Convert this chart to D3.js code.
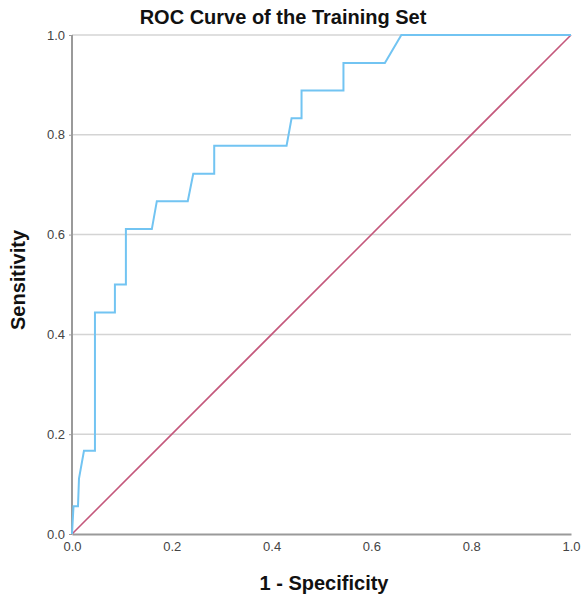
<!DOCTYPE html>
<html>
<head>
<meta charset="utf-8">
<script src="https://cdn.jsdelivr.net/npm/d3@7"></script>
<style>
  body { margin: 0; background: #fff; }
  #chart { width: 583px; height: 596px; }
  text { font-family: "Liberation Sans", Arial, sans-serif; }
</style>
</head>
<body>
<div id="chart"></div>
<script>
// ROC points (1 - specificity, sensitivity)
var fpr = [0, 0.003, 0.012, 0.014, 0.024, 0.046, 0.046, 0.086, 0.086, 0.108, 0.108, 0.160, 0.170, 0.232, 0.243, 0.285, 0.285, 0.430, 0.440, 0.460, 0.460, 0.544, 0.544, 0.627, 0.660, 1.0];
var tpr = [0, 0.0556, 0.0556, 0.111, 0.1667, 0.1667, 0.444, 0.444, 0.5, 0.5, 0.611, 0.611, 0.667, 0.667, 0.722, 0.722, 0.778, 0.778, 0.833, 0.833, 0.889, 0.889, 0.944, 0.944, 1.0, 1.0];
var refLine = [0, 1];
var ticks = [0, 0.2, 0.4, 0.6, 0.8, 1.0];

var margin = {top: 35, right: 12, bottom: 62, left: 72};
var W = 583, H = 596;
var w = W - margin.left - margin.right;
var h = H - margin.top - margin.bottom;

var xscale = d3.scaleLinear().domain([0, 1]).range([0, w]);
var yscale = d3.scaleLinear().domain([0, 1]).range([h, 0]);

var svg = d3.select("#chart").append("svg")
  .attr("width", W)
  .attr("height", H);

var g = svg.append("g")
  .attr("transform", "translate(" + margin.left + "," + margin.top + ")");

// gridlines
g.selectAll(".grid").data(ticks.slice(1)).enter()
  .append("line")
  .attr("x1", 0).attr("x2", w)
  .attr("y1", function(d){ return yscale(d); })
  .attr("y2", function(d){ return yscale(d); })
  .attr("stroke", "#d4d4d4")
  .attr("stroke-width", 1.5);

// axes
var xaxis = g.append("g")
  .attr("transform", "translate(0," + h + ")")
  .call(d3.axisBottom(xscale).tickValues(ticks).tickFormat(d3.format(".1f")).tickSize(0).tickPadding(8));
var yaxis = g.append("g")
  .call(d3.axisLeft(yscale).tickValues(ticks).tickFormat(d3.format(".1f")).tickSize(3).tickPadding(4));

[xaxis, yaxis].forEach(function(a){
  a.select(".domain").attr("stroke", "#9a9a9a").attr("stroke-width", 2);
  a.selectAll(".tick line").attr("stroke", "#9a9a9a");
  a.selectAll(".tick text")
    .attr("fill", "#444")
    .style("font-size", "13px")
    .style("font-family", "'Liberation Sans', Arial, sans-serif");
});
yaxis.select(".domain").attr("d", "M0," + h + "V0");

// reference diagonal
var line = d3.line()
  .x(function(d){ return xscale(d[0]); })
  .y(function(d){ return yscale(d[1]); });

g.append("path")
  .datum(refLine.map(function(v){ return [v, v]; }))
  .attr("fill", "none")
  .attr("stroke", "#c4587c")
  .attr("stroke-width", 1.6)
  .attr("d", line);

// ROC curve
g.append("path")
  .datum(fpr.map(function(v, i){ return [v, tpr[i]]; }))
  .attr("fill", "none")
  .attr("stroke", "#72c4f2")
  .attr("stroke-width", 2)
  .attr("d", line);

// titles
svg.append("text")
  .attr("x", 283).attr("y", 24)
  .attr("text-anchor", "middle")
  .style("font-size", "20px").style("font-weight", "bold")
  .attr("fill", "#111")
  .text("ROC Curve of the Training Set");

svg.append("text")
  .attr("x", 324).attr("y", 590)
  .attr("text-anchor", "middle")
  .style("font-size", "20px").style("font-weight", "bold")
  .attr("fill", "#111")
  .text("1 - Specificity");

svg.append("text")
  .attr("transform", "translate(25,280) rotate(-90)")
  .attr("text-anchor", "middle")
  .style("font-size", "20px").style("font-weight", "bold")
  .attr("fill", "#111")
  .text("Sensitivity");
</script>
</body>
</html>
